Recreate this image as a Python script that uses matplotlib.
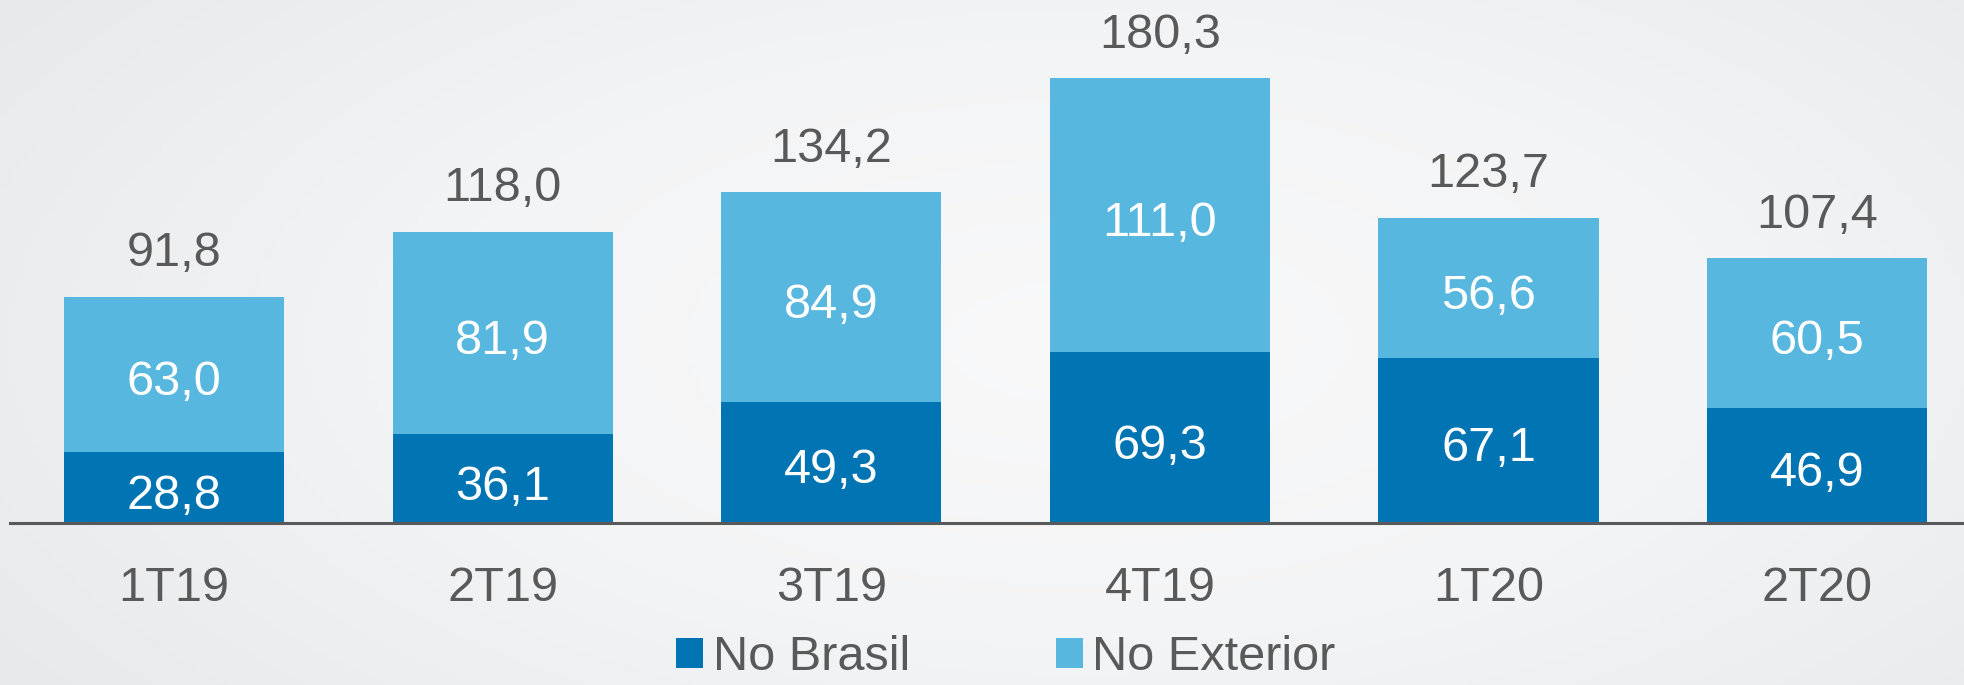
import numpy as np
import matplotlib.pyplot as plt
from matplotlib.colors import LinearSegmentedColormap

plt.rcParams['font.family'] = ['Liberation Sans', 'DejaVu Sans']

# dados (R$ bilhões) por trimestre
trimestres = ['1T19', '2T19', '3T19', '4T19', '1T20', '2T20']
no_brasil = [28.8, 36.1, 49.3, 69.3, 67.1, 46.9]
no_exterior = [63.0, 81.9, 84.9, 111.0, 56.6, 60.5]
totais = [91.8, 118.0, 134.2, 180.3, 123.7, 107.4]

cor_brasil = '#0174B3'
cor_exterior = '#58B7DE'
cor_texto = '#595959'

def fmt(v):
    return f'{v:.1f}'.replace('.', ',')

fig = plt.figure(figsize=(19.65, 6.85), dpi=100)

# fundo cinza com leve degradê
bg = fig.add_axes([0, 0, 1, 1], zorder=-1)
yy, xx = np.mgrid[0:1:200j, 0:1:400j]
dist = np.sqrt(((xx - 0.55) * 1.2) ** 2 + ((yy - 0.5) * 0.9) ** 2)
cmap_bg = LinearSegmentedColormap.from_list('bg', ['#F9F9FA', '#F3F4F5', '#E8E9EB'])
bg.imshow(dist, cmap=cmap_bg, aspect='auto', extent=[0, 1, 0, 1], vmin=0, vmax=0.8)
bg.axis('off')

ax = fig.add_axes([0.005, 0.236, 0.995, 0.764])
ax.patch.set_alpha(0)

x = np.arange(len(trimestres))
largura = 0.67
b1 = ax.bar(x, no_brasil, largura, color=cor_brasil, label='No Brasil', zorder=2)
b2 = ax.bar(x, no_exterior, largura, bottom=no_brasil, color=cor_exterior,
            label='No Exterior', zorder=2)

for i in range(len(x)):
    ax.annotate(fmt(no_brasil[i]), (x[i], no_brasil[i] / 2), xytext=(0, -6),
                textcoords='offset points', ha='center', va='center',
                color='white', fontsize=35)
    ax.annotate(fmt(no_exterior[i]), (x[i], no_brasil[i] + no_exterior[i] / 2),
                xytext=(0, -6), textcoords='offset points', ha='center',
                va='center', color='white', fontsize=35)
    ax.annotate(fmt(totais[i]), (x[i], no_brasil[i] + no_exterior[i]),
                xytext=(0, 31), textcoords='offset points', ha='center',
                va='center', color=cor_texto, fontsize=35)

ax.set_xlim(-0.5, 5.45)
ax.set_ylim(0, 212)
ax.set_xticks(x)
ax.set_xticklabels(trimestres, fontsize=35, color=cor_texto)
ax.tick_params(axis='x', length=0, pad=31)
ax.set_yticks([])
for s in ['top', 'right', 'left']:
    ax.spines[s].set_visible(False)
ax.spines['bottom'].set_color(cor_texto)
ax.spines['bottom'].set_linewidth(2.2)
ax.spines['bottom'].set_zorder(3)

leg = fig.legend(handles=[b1, b2], loc='center', bbox_to_anchor=(0.512, 0.04),
                 ncol=2, frameon=False, fontsize=35, handlelength=0.55,
                 handleheight=0.55, handletextpad=0.2, columnspacing=3.0,
                 borderpad=0, labelcolor=cor_texto)

fig.savefig('out.png', dpi=100)
